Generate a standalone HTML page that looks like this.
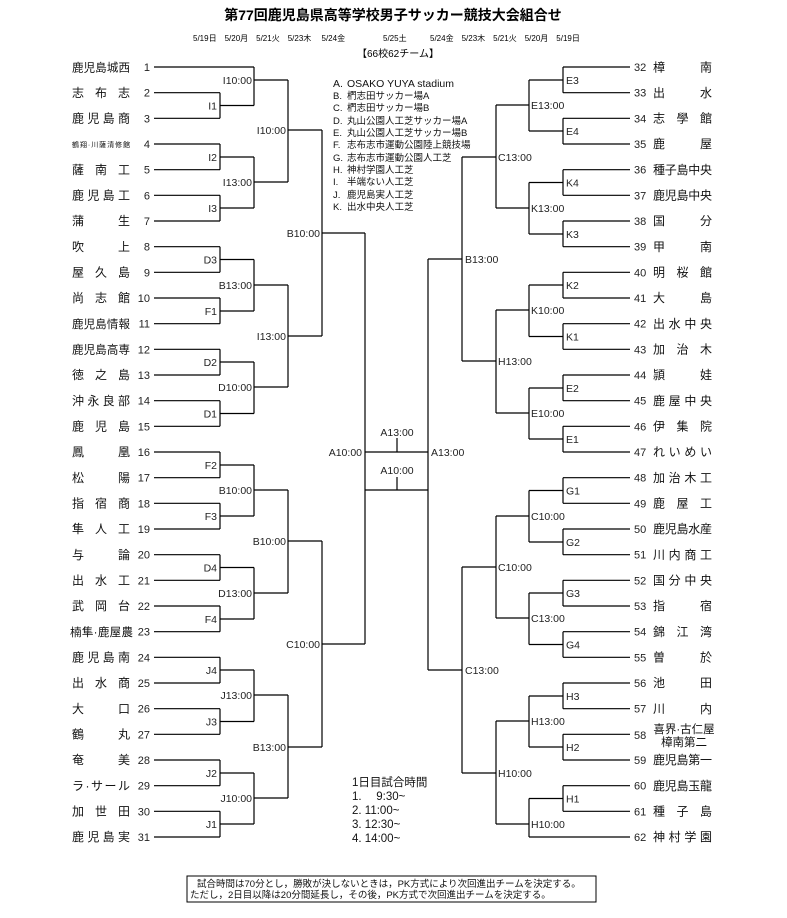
<!DOCTYPE html>
<html><head><meta charset="utf-8"><style>
html,body{margin:0;padding:0;background:#fff;}
svg{display:block;font-family:"Liberation Sans","Noto Sans CJK JP",sans-serif;}
.l{stroke:#000;stroke-width:1.2;fill:none;}
.lb{font-size:10.5px;fill:#222;}
.nm{font-size:12px;fill:#111;}
.no{font-size:11px;fill:#222;}
.lg{font-size:9.5px;fill:#111;}
</style></head><body>
<svg width="787" height="918" viewBox="0 0 787 918" xmlns="http://www.w3.org/2000/svg">
<text x="393" y="20" text-anchor="middle" font-size="14" font-weight="bold">第77回鹿児島県高等学校男子サッカー競技大会組合せ</text>
<text x="193" y="41" font-size="8">5/19日　5/20月　5/21火　5/23木　 5/24金</text>
<text x="383" y="41" font-size="8">5/25土</text>
<text x="430" y="41" font-size="8">5/24金　5/23木　5/21火　5/20月　5/19日</text>
<text x="357" y="57" font-size="10">【66校62チーム】</text>

<g class="lg">
<text x="333" y="87" font-size="10.5">A.</text><text x="347" y="87" font-size="10.5">OSAKO YUYA stadium</text>
<text x="333" y="99">B.</text><text x="347" y="99">椚志田サッカー場A</text>
<text x="333" y="111">C.</text><text x="347" y="111">椚志田サッカー場B</text>
<text x="333" y="124">D.</text><text x="347" y="124">丸山公園人工芝サッカー場A</text>
<text x="333" y="136">E.</text><text x="347" y="136">丸山公園人工芝サッカー場B</text>
<text x="333" y="148">F.</text><text x="347" y="148">志布志市運動公園陸上競技場</text>
<text x="333" y="161">G.</text><text x="347" y="161">志布志市運動公園人工芝</text>
<text x="333" y="173">H.</text><text x="347" y="173">神村学園人工芝</text>
<text x="333" y="185">I.</text><text x="347" y="185">半端ない人工芝</text>
<text x="333" y="198">J.</text><text x="347" y="198">鹿児島実人工芝</text>
<text x="333" y="210">K.</text><text x="347" y="210">出水中央人工芝</text>
</g>

<g class="l">
<path d="M154 67H254 M154 92.7H220 M154 118.3H220 M154 144H220 M154 169.7H220 M154 195.3H220 M154 221H220 M154 246.7H220 M154 272.3H220 M154 298H220 M154 323.7H220 M154 349.3H220 M154 375H220 M154 400.7H220 M154 426.3H220 M154 452H220 M154 477.7H220 M154 503.3H220 M154 529H220 M154 554.7H220 M154 580.3H220 M154 606H220 M154 631.7H220 M154 657.3H220 M154 683H220 M154 708.7H220 M154 734.3H220 M154 760H220 M154 785.7H220 M154 811.3H220 M154 837H220"/>
<path d="M220 92.7V118.3 M220 144V169.7 M220 195.3V221 M220 246.7V272.3 M220 298V323.7 M220 349.3V375 M220 400.7V426.3 M220 452V477.7 M220 503.3V529 M220 554.7V580.3 M220 606V631.7 M220 657.3V683 M220 708.7V734.3 M220 760V785.7 M220 811.3V837"/>
<path d="M220 105.5H254 M220 157H254 M220 208H254 M220 259.5H254 M220 311H254 M220 362H254 M220 413.5H254 M220 465H254 M220 516H254 M220 567.5H254 M220 619H254 M220 670H254 M220 721.5H254 M220 773H254 M220 824H254"/>
<path d="M254 67V105.5 M254 157V208 M254 259.5V311 M254 362V413.5 M254 465V516 M254 567.5V619 M254 670V721.5 M254 773V824"/>
<path d="M254 80H288 M254 182H288 M254 285H288 M254 387H288 M254 490H288 M254 593H288 M254 695H288 M254 798H288"/>
<path d="M288 80V182 M288 285V387 M288 490V593 M288 695V798"/>
<path d="M288 130H322 M288 336H322 M288 541H322 M288 747H322"/>
<path d="M322 130V336 M322 541V747 M322 233H365 M322 644H365 M365 233V644"/>
<path d="M365 452H428 M365 490H428 M397 438V452 M397 477V490"/>
<path d="M630 67H563 M630 92.7H563 M630 118.3H563 M630 144H563 M630 169.7H563 M630 195.3H563 M630 221H563 M630 246.7H563 M630 272.3H563 M630 298H563 M630 323.7H563 M630 349.3H563 M630 375H563 M630 400.7H563 M630 426.3H563 M630 452H563 M630 477.7H563 M630 503.3H563 M630 529H563 M630 554.7H563 M630 580.3H563 M630 606H563 M630 631.7H563 M630 657.3H563 M630 683H563 M630 708.7H563 M630 734.3H563 M630 760H563 M630 785.7H563 M630 811.3H563 M630 837H529"/>
<path d="M563 67V92.7 M563 118.3V144 M563 169.7V195.3 M563 221V246.7 M563 272.3V298 M563 323.7V349.3 M563 375V400.7 M563 426.3V452 M563 477.7V503.3 M563 529V554.7 M563 580.3V606 M563 631.7V657.3 M563 683V708.7 M563 734.3V760 M563 785.7V811.3"/>
<path d="M563 80H529 M563 131H529 M563 182.5H529 M563 234H529 M563 285H529 M563 336.5H529 M563 388H529 M563 439H529 M563 490.5H529 M563 542H529 M563 593H529 M563 644.5H529 M563 696H529 M563 747H529 M563 798.5H529"/>
<path d="M529 80V131 M529 182.5V234 M529 285V336.5 M529 388V439 M529 490.5V542 M529 593V644.5 M529 696V747 M529 798.5V837"/>
<path d="M529 105H496 M529 208H496 M529 310H496 M529 413H496 M529 516H496 M529 618H496 M529 721H496 M529 824H496"/>
<path d="M496 105V208 M496 310V413 M496 516V618 M496 721V824"/>
<path d="M496 157H462 M496 361H462 M496 567H462 M496 773H462"/>
<path d="M462 157V361 M462 567V773 M462 259H428 M462 670H428 M428 259V670"/>
<rect x="187" y="876" width="409" height="26" stroke-width="1"/>
</g>

<g class="lb" text-anchor="end">
<text x="217" y="109.5">I1</text><text x="217" y="161">I2</text><text x="217" y="212">I3</text><text x="217" y="263.5">D3</text><text x="217" y="315">F1</text><text x="217" y="366">D2</text><text x="217" y="417.5">D1</text><text x="217" y="469">F2</text><text x="217" y="520">F3</text><text x="217" y="571.5">D4</text><text x="217" y="623">F4</text><text x="217" y="674">J4</text><text x="217" y="725.5">J3</text><text x="217" y="777">J2</text><text x="217" y="828">J1</text>
<text x="252" y="84">I10:00</text><text x="252" y="186">I13:00</text><text x="252" y="289">B13:00</text><text x="252" y="391">D10:00</text><text x="252" y="494">B10:00</text><text x="252" y="597">D13:00</text><text x="252" y="699">J13:00</text><text x="252" y="802">J10:00</text>
<text x="286" y="134">I10:00</text><text x="286" y="340">I13:00</text><text x="286" y="545">B10:00</text><text x="286" y="751">B13:00</text>
<text x="320" y="237">B10:00</text><text x="320" y="648">C10:00</text>
<text x="362" y="456">A10:00</text>
</g>
<g class="lb" text-anchor="middle">
<text x="397" y="436">A13:00</text><text x="397" y="474">A10:00</text>
</g>
<g class="lb">
<text x="566" y="84">E3</text><text x="566" y="135">E4</text><text x="566" y="186.5">K4</text><text x="566" y="238">K3</text><text x="566" y="289">K2</text><text x="566" y="340.5">K1</text><text x="566" y="392">E2</text><text x="566" y="443">E1</text><text x="566" y="494.5">G1</text><text x="566" y="546">G2</text><text x="566" y="597">G3</text><text x="566" y="648.5">G4</text><text x="566" y="700">H3</text><text x="566" y="751">H2</text><text x="566" y="802.5">H1</text>
<text x="531" y="109">E13:00</text><text x="531" y="212">K13:00</text><text x="531" y="314">K10:00</text><text x="531" y="417">E10:00</text><text x="531" y="520">C10:00</text><text x="531" y="622">C13:00</text><text x="531" y="725">H13:00</text><text x="531" y="828">H10:00</text>
<text x="498" y="161">C13:00</text><text x="498" y="365">H13:00</text><text x="498" y="571">C10:00</text><text x="498" y="777">H10:00</text>
<text x="465" y="263">B13:00</text><text x="465" y="674">C13:00</text>
<text x="431" y="456">A13:00</text>
</g>

<g class="no" text-anchor="end">
<text x="150" y="71">1</text><text x="150" y="96.7">2</text><text x="150" y="122.3">3</text><text x="150" y="148">4</text><text x="150" y="173.7">5</text><text x="150" y="199.3">6</text><text x="150" y="225">7</text><text x="150" y="250.7">8</text><text x="150" y="276.3">9</text><text x="150" y="302">10</text><text x="150" y="327.7">11</text><text x="150" y="353.3">12</text><text x="150" y="379">13</text><text x="150" y="404.7">14</text><text x="150" y="430.3">15</text><text x="150" y="456">16</text><text x="150" y="481.7">17</text><text x="150" y="507.3">18</text><text x="150" y="533">19</text><text x="150" y="558.7">20</text><text x="150" y="584.3">21</text><text x="150" y="610">22</text><text x="150" y="635.7">23</text><text x="150" y="661.3">24</text><text x="150" y="687">25</text><text x="150" y="712.7">26</text><text x="150" y="738.3">27</text><text x="150" y="764">28</text><text x="150" y="789.7">29</text><text x="150" y="815.3">30</text><text x="150" y="841">31</text>
</g>
<g class="nm" lengthAdjust="spacing">
<text x="72" y="71.5" textLength="58" font-size="11.5">鹿児島城西</text>
<text x="72" y="97" textLength="58">志布志</text>
<text x="72" y="122.5" textLength="58">鹿児島商</text>
<text x="72" y="147" textLength="58" font-size="7">鶴翔·川薩清修館</text>
<text x="72" y="174" textLength="58">薩南工</text>
<text x="72" y="199.5" textLength="58">鹿児島工</text>
<text x="72" y="225" textLength="58">蒲生</text>
<text x="72" y="251" textLength="58">吹上</text>
<text x="72" y="276.5" textLength="58">屋久島</text>
<text x="72" y="302" textLength="58">尚志館</text>
<text x="72" y="328" textLength="58" font-size="11.5">鹿児島情報</text>
<text x="72" y="353.5" textLength="58" font-size="11.5">鹿児島高専</text>
<text x="72" y="379" textLength="58">徳之島</text>
<text x="72" y="405" textLength="58">沖永良部</text>
<text x="72" y="430.5" textLength="58">鹿児島</text>
<text x="72" y="456" textLength="58">鳳凰</text>
<text x="72" y="482" textLength="58">松陽</text>
<text x="72" y="507.5" textLength="58">指宿商</text>
<text x="72" y="533" textLength="58">隼人工</text>
<text x="72" y="559" textLength="58">与論</text>
<text x="72" y="584.5" textLength="58">出水工</text>
<text x="72" y="610" textLength="58">武岡台</text>
<text x="70" y="636" textLength="63" font-size="11.5">楠隼·鹿屋農</text>
<text x="72" y="661.5" textLength="58">鹿児島南</text>
<text x="72" y="687" textLength="58">出水商</text>
<text x="72" y="713" textLength="58">大口</text>
<text x="72" y="738.5" textLength="58">鶴丸</text>
<text x="72" y="764" textLength="58">奄美</text>
<text x="72" y="790" textLength="58">ラ·サール</text>
<text x="72" y="815.5" textLength="58">加世田</text>
<text x="72" y="841" textLength="58">鹿児島実</text>
</g>

<g class="no">
<text x="634" y="71">32</text><text x="634" y="96.7">33</text><text x="634" y="122.3">34</text><text x="634" y="148">35</text><text x="634" y="173.7">36</text><text x="634" y="199.3">37</text><text x="634" y="225">38</text><text x="634" y="250.7">39</text><text x="634" y="276.3">40</text><text x="634" y="302">41</text><text x="634" y="327.7">42</text><text x="634" y="353.3">43</text><text x="634" y="379">44</text><text x="634" y="404.7">45</text><text x="634" y="430.3">46</text><text x="634" y="456">47</text><text x="634" y="481.7">48</text><text x="634" y="507.3">49</text><text x="634" y="533">50</text><text x="634" y="558.7">51</text><text x="634" y="584.3">52</text><text x="634" y="610">53</text><text x="634" y="635.7">54</text><text x="634" y="661.3">55</text><text x="634" y="687">56</text><text x="634" y="712.7">57</text><text x="634" y="764">59</text><text x="634" y="789.7">60</text><text x="634" y="815.3">61</text><text x="634" y="841">62</text>
<text x="634" y="739">58</text>
</g>
<g class="nm" lengthAdjust="spacing">
<text x="653" y="71.5" textLength="59">樟南</text>
<text x="653" y="97" textLength="59">出水</text>
<text x="653" y="122.5" textLength="59">志學館</text>
<text x="653" y="148" textLength="59">鹿屋</text>
<text x="653" y="174" textLength="59">種子島中央</text>
<text x="653" y="199.5" textLength="59">鹿児島中央</text>
<text x="653" y="225" textLength="59">国分</text>
<text x="653" y="251" textLength="59">甲南</text>
<text x="653" y="276.5" textLength="59">明桜館</text>
<text x="653" y="302" textLength="59">大島</text>
<text x="653" y="328" textLength="59">出水中央</text>
<text x="653" y="353.5" textLength="59">加治木</text>
<text x="653" y="379" textLength="59">頴娃</text>
<text x="653" y="405" textLength="59">鹿屋中央</text>
<text x="653" y="430.5" textLength="59">伊集院</text>
<text x="653" y="456" textLength="59">れいめい</text>
<text x="653" y="482" textLength="59">加治木工</text>
<text x="653" y="507.5" textLength="59">鹿屋工</text>
<text x="653" y="533" textLength="59">鹿児島水産</text>
<text x="653" y="559" textLength="59">川内商工</text>
<text x="653" y="584.5" textLength="59">国分中央</text>
<text x="653" y="610" textLength="59">指宿</text>
<text x="653" y="636" textLength="59">錦江湾</text>
<text x="653" y="661.5" textLength="59">曽於</text>
<text x="653" y="687" textLength="59">池田</text>
<text x="653" y="713" textLength="59">川内</text>
<text x="684" y="733" text-anchor="middle" font-size="11.5">喜界·古仁屋</text>
<text x="684" y="746" text-anchor="middle" font-size="11.5">樟南第二</text>
<text x="653" y="764" textLength="59">鹿児島第一</text>
<text x="653" y="790" textLength="59">鹿児島玉龍</text>
<text x="653" y="815.5" textLength="59">種子島</text>
<text x="653" y="841" textLength="59">神村学園</text>
</g>

<g font-size="11.5" fill="#111">
<text x="352" y="786">1日目試合時間</text>
<text x="352" y="800">1.　 9:30~</text>
<text x="352" y="814">2. 11:00~</text>
<text x="352" y="828">3. 12:30~</text>
<text x="352" y="842">4. 14:00~</text>
</g>
<g font-size="9.5" fill="#111">
<text x="197" y="887">試合時間は70分とし，勝敗が決しないときは，PK方式により次回進出チームを決定する。</text>
<text x="190" y="898">ただし，2日目以降は20分間延長し，その後，PK方式で次回進出チームを決定する。</text>
</g>
</svg>
</body></html>
